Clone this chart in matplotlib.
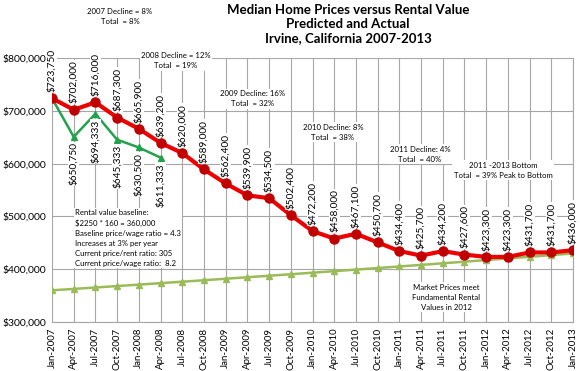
import matplotlib
matplotlib.use("Agg")
import matplotlib.pyplot as plt

plt.rcParams['font.family'] = ['Lato', 'DejaVu Sans']

# quarterly dates
quarters = ['Jan-2007', 'Apr-2007', 'Jul-2007', 'Oct-2007', 'Jan-2008', 'Apr-2008', 'Jul-2008', 'Oct-2008',
            'Jan-2009', 'Apr-2009', 'Jul-2009', 'Oct-2009', 'Jan-2010', 'Apr-2010', 'Jul-2010', 'Oct-2010',
            'Jan-2011', 'Apr-2011', 'Jul-2011', 'Oct-2011', 'Jan-2012', 'Apr-2012', 'Jul-2012', 'Oct-2012',
            'Jan-2013']

# actual median prices
actual = [723750, 702000, 716000, 687300, 665900, 639200, 620000, 589000, 562400, 539900, 534500, 502400,
          472200, 458000, 467100, 450700, 434400, 425700, 434200, 427600, 423300, 423300, 431700, 431700,
          436000]

# predicted values (first 6 quarters)
predicted = [723750, 650750, 694333, 645333, 630500, 611333]

# rental value baseline
rental = [360000, 362660, 365350, 368050, 370800, 373540, 376310, 379090, 381920, 384750, 387600, 390470,
          393380, 396290, 399230, 402180, 405170, 408170, 411190, 414240, 417330, 420420, 423530, 426660,
          429870]

notes = [
    (120, 16, "2007 Decline = 8%\nTotal  = 8%"),
    (176, 61, "2008 Decline = 12%\nTotal  = 19%"),
    (253, 99, "2009 Decline: 16%\nTotal  = 32%"),
    (333, 132, "2010 Decline: 8%\nTotal  = 38%"),
    (420, 154, "2011 Decline: 4%\nTotal  = 40%"),
    (503, 170, "2011 -2013 Bottom\nTotal  = 39% Peak to Bottom"),
    (446, 297, "Market Prices meet\nFundamental Rental\nValues in 2012"),
]
baseline_text = ("Rental value baseline:\n$2250 * 160 = 360,000\nBaseline price/wage ratio = 4.3\n"
                 "Increases at 3% per year\nCurrent price/rent ratio: 305\nCurrent price/wage ratio:  8.2")

W, H = 580, 371
fig = plt.figure(figsize=(W / 100, H / 100), dpi=100)
ax = fig.add_axes([52 / W, 1 - 322 / H, (573 - 52) / W, (322 - 58) / H])

x = list(range(len(quarters)))
ax.plot(x, rental, color='#9BBB59', lw=1.8, marker='^', ms=4.5, zorder=3)
ax.plot(x[:len(predicted)], predicted, color='#23A24D', lw=1.8, marker='^', ms=4.5, zorder=4)
ax.plot(x, actual, color='#EE0000', lw=3, marker='o', ms=6.5, mfc='#C00000', mec='#C00000', zorder=5)

box = dict(facecolor='white', edgecolor='none', pad=0.6)
for i, v in enumerate(actual):
    ax.annotate(f"${v:,}", (i, v), xytext=(0, 4.5), textcoords='offset points', rotation=90,
                ha='center', va='bottom', fontsize=7.3, bbox=box, zorder=6)
for i, v in enumerate(predicted[1:], start=1):
    ax.annotate(f"${v:,}", (i, v), xytext=(0, -4), textcoords='offset points', rotation=90,
                ha='center', va='top', fontsize=7.3, bbox=box, zorder=6)

for px, py, t in notes:
    fig.text(px / W, 1 - py / H, t, ha='center', va='center', fontsize=5.6, linespacing=1.5,
             bbox=dict(facecolor='white', edgecolor='none', pad=1), zorder=7)
fig.text(75 / W, 1 - 238 / H, baseline_text, ha='left', va='center', fontsize=5.6, linespacing=1.5,
         bbox=dict(facecolor='white', edgecolor='none', pad=1), zorder=7)

fig.text(348 / W, 1 - 24 / H, "Median Home Prices versus Rental Value\nPredicted and Actual\nIrvine, California 2007-2013",
         ha='center', va='center', fontsize=9.5, fontweight='bold', linespacing=1.25)

ax.set_xlim(0, len(quarters) - 1)
ax.set_ylim(300000, 800000)
ax.set_yticks(range(300000, 800001, 100000))
ax.set_yticklabels([f"${v:,}" for v in range(300000, 800001, 100000)], fontsize=7.5)
ax.set_xticks(x)
ax.set_xticklabels(quarters, rotation=90, fontsize=7)
ax.tick_params(length=0, pad=4)
ax.grid(True, color='#A6A6A6', lw=0.8)
ax.set_axisbelow(True)
for s in ['left', 'top']:
    ax.spines[s].set_visible(False)
ax.spines['right'].set_color('#A6A6A6')
ax.spines['bottom'].set_color('#A6A6A6')

fig.savefig('out.png', dpi=100)
